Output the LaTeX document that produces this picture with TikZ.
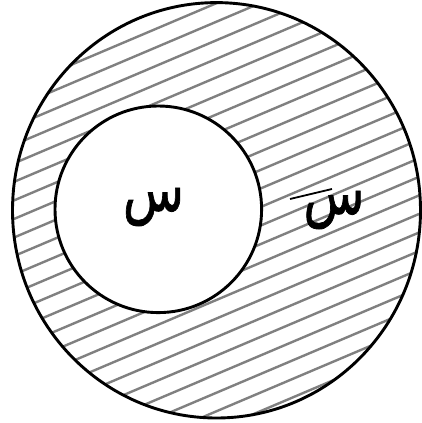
\documentclass[tikz,border=0pt]{standalone}
\usepackage{fontspec}
\newfontfamily\arabicfont[Script=Arabic,FakeBold=1.3]{DejaVu Sans}
\TeXXeTstate=1
\usetikzlibrary{calc}
\tikzset{
  hatch/.style={draw=black!50, line width=2.4pt},
  rim/.style={draw=black, line width=2.9pt},
  lbl/.style={font=\arabicfont\fontsize{50}{60}\selectfont, inner sep=0pt}
}
\newcommand{\seenlbl}{\scalebox{1}[1.25]{\beginR س\endR}}
\begin{document}
\begin{tikzpicture}[x=1pt,y=-1pt]
\useasboundingbox (0,0) rectangle (422,423);
\fill[white] (0,0) rectangle (422,423);
\begin{scope}
  \clip (216.5,210.3) ellipse [x radius=204, y radius=207.7];
  \foreach \k in {-25,...,13} {
    \draw[hatch] (-10,{410.4+18.55*\k+4.245}) -- (440,{410.4+18.55*\k-186.78});
  }
\end{scope}
\fill[white] (158.3,209.3) circle [radius=103.3];
\draw[rim] (216.5,210.3) ellipse [x radius=204, y radius=207.7];
\draw[rim] (158.3,209.3) circle [radius=103.3];
\node[lbl] (set) at (153.5,207) {\seenlbl};
\node[lbl] (comp) at (334,210) {\seenlbl};
\coordinate (b1) at ($(comp.center)+(-44,-11)$);
\coordinate (b2) at ($(comp.center)+(-2,-21)$);
\draw[line width=1.8pt] (b1) -- (b2);
\end{tikzpicture}
\end{document}
